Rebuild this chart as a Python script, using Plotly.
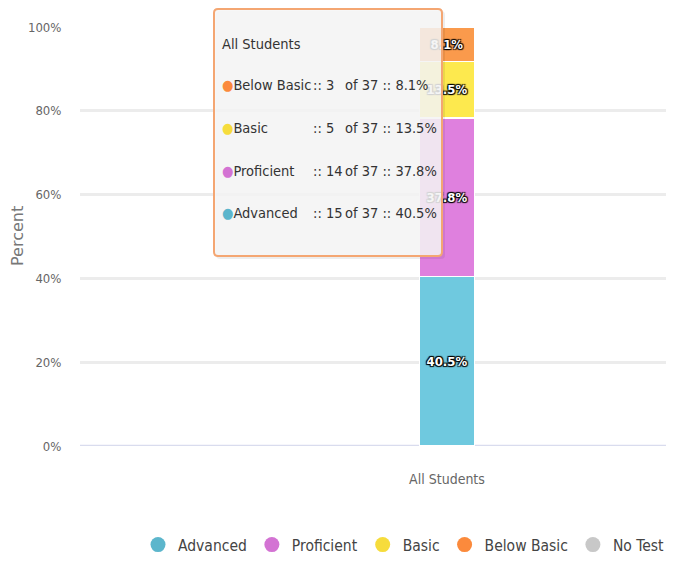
import plotly.graph_objects as go

categories = ["All Students"]
series_names = ["Advanced", "Proficient", "Basic", "Below Basic", "No Test"]
counts = [15, 14, 5, 3, 0]
total = 37
percents = [40.5, 37.8, 13.5, 8.1, 0.0]
bar_colors = ["#6fc9df", "#df80de", "#fde94e", "#fa9a4c", "#c8c8c8"]
legend_colors = ["#5cb6cc", "#d373d3", "#f6dc3c", "#fb8a3c", "#c8c8c8"]
y_ticks = [0, 20, 40, 60, 80, 100]
y_tick_labels = ["0%", "20%", "40%", "60%", "80%", "100%"]

FONT = "DejaVu Sans Condensed, Liberation Sans Narrow, sans-serif"

def F(size, color, **kw):
    return dict(family=FONT, size=size, color=color, **kw)

fig = go.Figure()

for name, p, c in zip(series_names, percents, bar_colors):
    fig.add_trace(go.Bar(
        x=categories, y=[p], name=name,
        marker=dict(color=c, line=dict(color="white", width=1.5)),
        width=0.14,
        text=[f"{p}%" if p > 0 else ""],
        textposition="inside", insidetextanchor="middle",
        textfont=F(13, "white", weight="bold",
                   shadow="1px 1px 1px #000, -1px -1px 1px #000, 1px -1px 1px #000, -1px 1px 1px #000"),
        constraintext="none",
        showlegend=False, hoverinfo="skip",
    ))

# legend-only circle markers
for name, c in zip(series_names, legend_colors):
    fig.add_trace(go.Scatter(
        x=[None], y=[None], mode="markers", name=name,
        marker=dict(color=c, size=15, symbol="circle"),
        showlegend=True,
    ))

def px_x(v):
    return (v - 80) / 590

def px_y(v):
    return (446 - v) / 419

def rounded_rect(x0, y0, x1, y1, r=4):
    # pixel coords (screen) -> paper path with rounded corners
    rx, ry = r / 590, r / 419
    X0, X1 = px_x(x0), px_x(x1)
    Yt, Yb = px_y(y0), px_y(y1)
    return (f"M {X0+rx},{Yt} L {X1-rx},{Yt} Q {X1},{Yt} {X1},{Yt-ry} "
            f"L {X1},{Yb+ry} Q {X1},{Yb} {X1-rx},{Yb} L {X0+rx},{Yb} "
            f"Q {X0},{Yb} {X0},{Yb+ry} L {X0},{Yt-ry} Q {X0},{Yt} {X0+rx},{Yt} Z")

# Tooltip shadow + box
fig.add_shape(type="path", xref="paper", yref="paper", path=rounded_rect(216, 11, 445, 259),
              fillcolor="rgba(0,0,0,0.07)", line=dict(width=0), layer="above")
fig.add_shape(type="path", xref="paper", yref="paper", path=rounded_rect(214, 9, 442, 256),
              fillcolor="rgba(246,246,246,0.86)", line=dict(color="#f4a672", width=2),
              layer="above")

TT = 14.5
fig.add_annotation(xref="paper", yref="paper", x=px_x(220), y=px_y(44),
                   text=categories[0], showarrow=False, xanchor="left", yanchor="middle",
                   font=F(TT, "#333"))

row_order = [3, 2, 1, 0]
row_ys = [85, 128, 171, 213]
for idx, ypx in zip(row_order, row_ys):
    yp = px_y(ypx)
    fig.add_annotation(xref="paper", yref="paper", x=px_x(220), y=yp,
                       text=f"<span style='color:{legend_colors[idx]}'>●</span>{series_names[idx]}",
                       showarrow=False, xanchor="left", yanchor="middle",
                       font=F(TT, "#333"))
    fig.add_annotation(xref="paper", yref="paper", x=px_x(311), y=yp,
                       text=f":: {counts[idx]}", showarrow=False, xanchor="left", yanchor="middle",
                       font=F(TT, "#333"))
    fig.add_annotation(xref="paper", yref="paper", x=px_x(343), y=yp,
                       text=f"of {total} :: {percents[idx]}%", showarrow=False, xanchor="left", yanchor="middle",
                       font=F(TT, "#333"))

# y-axis title
fig.add_annotation(xref="paper", yref="paper", x=px_x(17), y=px_y(236), textangle=-90,
                   text="Percent", showarrow=False, xanchor="center", yanchor="middle",
                   font=dict(family="DejaVu Sans", size=16, color="#777"))

# browser adds an 8px body margin; keep the figure inside the window
fig.update_layout(
    width=666, height=554,
    margin=dict(l=72, r=4, t=19, b=116, autoexpand=False),
    barmode="stack",
    plot_bgcolor="white", paper_bgcolor="white",
    font=F(14, "#666"),
    xaxis=dict(type="category", range=[-0.933, 0.567], showgrid=False, automargin=False,
               tickfont=F(14, "#666"), ticks="outside", ticklen=20, tickcolor="rgba(0,0,0,0)",
               showline=False, zeroline=False),
    yaxis=dict(range=[0, 100], tickvals=y_ticks, ticktext=y_tick_labels, automargin=False,
               showgrid=True, gridcolor="#ececec", gridwidth=2.5,
               zeroline=False, showline=False, ticks="outside", ticklen=15, tickcolor="rgba(0,0,0,0)",
               tickfont=F(13, "#666")),
    legend=dict(orientation="h", x=px_x(670), xanchor="right", y=px_y(545), yanchor="middle",
                font=F(15.5, "#444"), traceorder="normal", itemwidth=30),
)

# bluish baseline at 0
fig.add_shape(type="line", xref="paper", yref="y", x0=0, x1=1, y0=0, y1=0,
              line=dict(color="#d9dcee", width=2.5), layer="below")

fig.write_html("out.html")
